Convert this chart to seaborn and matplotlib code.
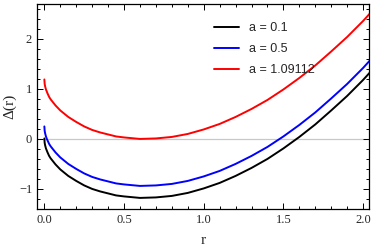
import pandas as pd
import matplotlib.pyplot as plt
import seaborn as sns
from matplotlib.ticker import MultipleLocator

# valores
r = [0.0, 0.002, 0.005, 0.01, 0.015, 0.02, 0.03, 0.04, 0.07, 0.1, 0.15, 0.2, 0.25,
     0.3, 0.35, 0.4, 0.45, 0.5, 0.6, 0.7, 0.8, 0.9, 1.0, 1.1, 1.2, 1.3, 1.4, 1.5,
     1.6, 1.7, 1.8, 1.9, 2.0, 2.04]
delta_01 = [0.01, -0.08, -0.13, -0.19, -0.23, -0.27, -0.34, -0.39, -0.51, -0.61,
            -0.74, -0.84, -0.93, -1.00, -1.05, -1.09, -1.13, -1.15, -1.18, -1.17,
            -1.14, -1.08, -0.99, -0.88, -0.74, -0.58, -0.40, -0.19, 0.04, 0.29,
            0.57, 0.86, 1.18, 1.32]
delta_05 = [0.25, 0.16, 0.11, 0.05, 0.005, -0.03, -0.10, -0.15, -0.27, -0.37,
            -0.50, -0.60, -0.69, -0.76, -0.81, -0.85, -0.89, -0.91, -0.94, -0.93,
            -0.90, -0.84, -0.75, -0.64, -0.50, -0.34, -0.16, 0.05, 0.28, 0.53,
            0.81, 1.10, 1.42, 1.56]
delta_109 = [1.19, 1.10, 1.05, 0.99, 0.95, 0.91, 0.84, 0.79, 0.67, 0.57,
             0.44, 0.34, 0.25, 0.18, 0.13, 0.09, 0.05, 0.03, 0.00, 0.01,
             0.04, 0.10, 0.19, 0.30, 0.44, 0.60, 0.78, 0.99, 1.22, 1.47,
             1.75, 2.04, 2.36, 2.50]
labels = ['a = 0.1', 'a = 0.5', 'a = 1.09112']
colores = ['black', '#0000ff', '#ff0000']

df = pd.concat([
    pd.DataFrame({'r': r, 'delta': d, 'a': lab})
    for d, lab in zip([delta_01, delta_05, delta_109], labels)
])

sns.set_theme(style="ticks")
plt.rcParams['font.family'] = ['Liberation Serif', 'DejaVu Serif']

fig = plt.figure(figsize=(3.74, 2.49), dpi=100)
ax = fig.add_axes([0.099, 0.161, 0.888, 0.823])

ax.axhline(0, color='#c8c8c8', lw=0.9, zorder=0)
sns.lineplot(data=df, x='r', y='delta', hue='a', palette=colores, lw=1.4,
             sort=False, estimator=None, ax=ax)

ax.set_xlim(-0.046, 2.038)
ax.set_ylim(-1.4, 2.7)
ax.xaxis.set_major_locator(MultipleLocator(0.5))
ax.xaxis.set_minor_locator(MultipleLocator(0.1))
ax.yaxis.set_major_locator(MultipleLocator(1))
ax.yaxis.set_minor_locator(MultipleLocator(0.2))
ax.xaxis.set_major_formatter(plt.FormatStrFormatter('%.1f'))
ax.set_yticks([-1, 0, 1, 2])
ax.set_yticklabels(['\u22121', '0', '1', '2'])
ax.tick_params(which='both', direction='in', top=True, right=True,
               labelsize=9, color='black', width=0.7)
ax.tick_params(which='major', length=4)
ax.tick_params(which='minor', length=2)
for s in ax.spines.values():
    s.set_linewidth(0.9)
    s.set_color('black')

ax.set_xlabel('r', fontsize=11, labelpad=6)
ax.set_ylabel('\u0394(r)', fontsize=11, labelpad=2)

leg = ax.legend(title=None, frameon=False, loc='upper left',
                bbox_to_anchor=(0.5, 0.965), handlelength=2.0,
                labelspacing=0.7, prop={'family': 'Liberation Sans', 'size': 9})

plt.savefig('out.png', dpi=100)
